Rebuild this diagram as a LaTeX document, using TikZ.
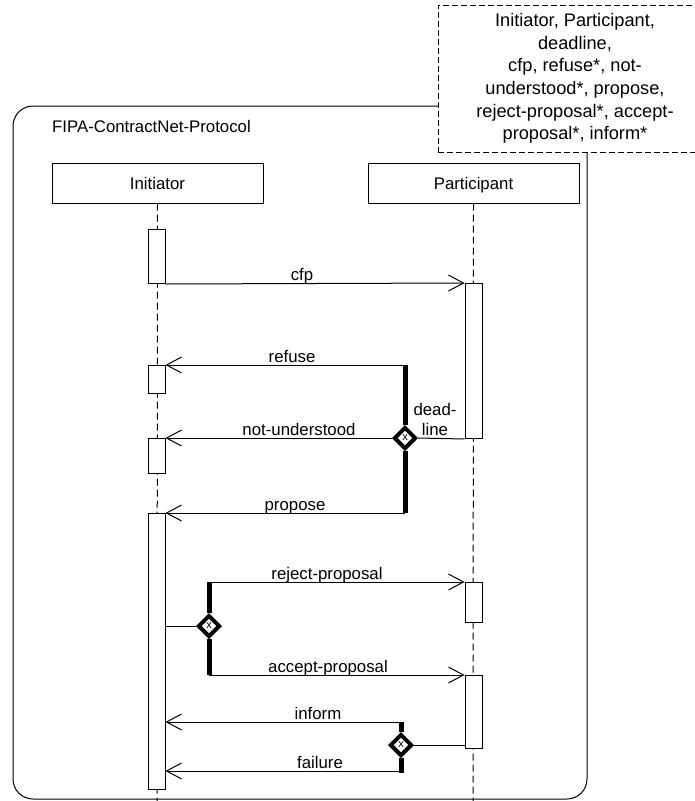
\documentclass[tikz,border=0pt]{standalone}
\usepackage{fontspec}
\setmainfont{Liberation Sans}
\usepackage{tikz}
\usetikzlibrary{arrows.meta,shapes.geometric}
\tikzset{
  lifebox/.style={draw,fill=white,minimum width=211pt,minimum height=40pt,inner sep=0pt,text height=12pt,text depth=0pt,line width=1pt},
  actbar/.style={draw,fill=white,anchor=north,minimum width=17pt,inner sep=0pt,line width=1pt},
  lifeline/.style={dash pattern=on 7pt off 4pt,line width=1pt},
  msgarr/.style={-{Straight Barb[length=15pt,width=16pt]},line width=1pt},
  msgline/.style={line width=1pt},
  choicebar/.style={line width=5pt},
  choice/.style={diamond,draw,fill=white,line width=4pt,minimum size=22pt,inner sep=0pt,font=\fontsize{11}{11}\selectfont},
  msglbl/.style={anchor=base,inner sep=0pt},
  notebox/.style={draw,fill=white,dash pattern=on 6pt off 3pt,line width=1pt,align=center,inner sep=0pt,font=\fontsize{18.2}{22.6}\selectfont}
}

\begin{document}
\begin{tikzpicture}[x=1pt,y=-1pt,font=\fontsize{16.8}{22.6}\selectfont]
  \useasboundingbox (0,0) rectangle (695,801);
  \clip (0,0) rectangle (695,801);
  % frame
  \draw[line width=1pt,rounded corners=20pt] (13,106) rectangle (587,799);
  \node[anchor=base west,inner sep=0pt] (title) at (52,132) {FIPA-ContractNet-Protocol};
  \node[notebox,minimum width=274pt,minimum height=147pt] (params) at (575,78.5)
    {Initiator, Participant,\\deadline,\\cfp, refuse*, not-\\understood*, propose,\\reject-proposal*, accept-\\proposal*, inform*};
  % lifelines
  \node[lifebox] (init) at (157.5,183) {Initiator};
  \node[lifebox] (part) at (473.5,183) {Participant};
  \coordinate (initend) at (157,801);
  \coordinate (partend) at (473,801);
  \draw[lifeline] (init.south) -- (initend);
  \draw[lifeline] (part.south) -- (partend);
  % activation bars
  \node[actbar,minimum height=54pt] (i1) at (156.5,229) {};
  \node[actbar,minimum height=28pt] (i2) at (156.5,365) {};
  \node[actbar,minimum height=35pt] (i3) at (156.5,438) {};
  \node[actbar,minimum height=276pt] (i4) at (156.5,513) {};
  \node[actbar,minimum height=155pt] (p1) at (473.5,283) {};
  \node[actbar,minimum height=40pt] (p2) at (473.5,582) {};
  \node[actbar,minimum height=73pt] (p3) at (473.5,675) {};
  % choices
  \node[choice] (x1) at (405,438) {x};
  \node[choice] (x2) at (209,626) {x};
  \node[choice] (x3) at (401,745) {x};
  \coordinate (x1t) at (405,365);
  \coordinate (x1b) at (405,513);
  \coordinate (x2t) at (209,582);
  \coordinate (x2b) at (209,675);
  \coordinate (x3t) at (401,722);
  \coordinate (x3b) at (401,773);
  \draw[choicebar] (x1t) -- (x1.north);
  \draw[choicebar] (x1.south) -- (x1b);
  \draw[choicebar] (x2t) -- (x2.north);
  \draw[choicebar] (x2.south) -- (x2b);
  \draw[choicebar] (x3t) -- (x3.north);
  \draw[choicebar] (x3.south) -- (x3b);
  % messages
  \draw[msgarr] (i1.south east) -- (p1.north west);
  \draw[msgarr] (x1t) -- (i2.north east);
  \draw[msgline] (p1.south west) -- (x1.east);
  \draw[msgarr] (x1.west) -- (i3.north east);
  \draw[msgarr] (x1b) -- (i4.north east);
  \draw[msgline] (i4.east |- x2) -- (x2.west);
  \draw[msgarr] (x2t) -- (p2.north west);
  \draw[msgarr] (x2b) -- (p3.north west);
  \draw[msgline] (p3.west |- x3) -- (x3.east);
  \draw[msgarr] (x3t) -- (x3t -| i4.east);
  \draw[msgarr] ([yshift=2pt]x3b) -- ([yshift=2pt]x3b -| i4.east);
  % labels
  \node[msglbl] (lcfp) at (302,280) {cfp};
  \node[msglbl] (lrefuse) at (292,362) {refuse};
  \node[msglbl] (lnotund) at (299,435) {not-understood};
  \node[msglbl] (lpropose) at (295,510) {propose};
  \node[msglbl] (lreject) at (327,579) {reject-proposal};
  \node[msglbl] (laccept) at (328,672) {accept-proposal};
  \node[msglbl] (linform) at (318,719) {inform};
  \node[msglbl] (lfailure) at (320,768) {failure};
  \node[align=center,inner sep=0pt,font=\fontsize{16.8}{20}\selectfont] (ldead) at (435,419) {dead-\\line};
\end{tikzpicture}
\end{document}
